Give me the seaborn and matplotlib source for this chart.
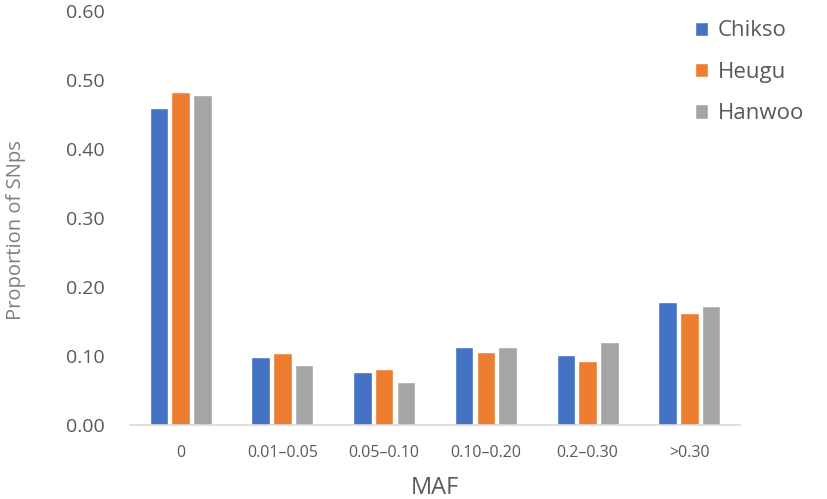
import matplotlib
matplotlib.use("Agg")
import matplotlib.pyplot as plt
import seaborn as sns
import pandas as pd

categories = ["0", "0.01\u20130.05", "0.05\u20130.10", "0.10\u20130.20", "0.2\u20130.30", ">0.30"]
breeds = ["Chikso", "Heugu", "Hanwoo"]
chikso = [0.460, 0.099, 0.077, 0.113, 0.101, 0.179]
heugu = [0.482, 0.105, 0.081, 0.106, 0.093, 0.163]
hanwoo = [0.479, 0.087, 0.062, 0.113, 0.121, 0.173]
colors = ["#4472C4", "#ED7D31", "#A5A5A5"]

rows = []
for b, vals in zip(breeds, [chikso, heugu, hanwoo]):
    for c, v in zip(categories, vals):
        rows.append({"MAF": c, "Breed": b, "Proportion": v})
df = pd.DataFrame(rows)

sns.set_theme(style="white")
plt.rcParams["font.family"] = ["Open Sans", "DejaVu Sans"]

fig = plt.figure(figsize=(8.27, 4.99), dpi=100)
ax = fig.add_axes([0.157, 0.148, 0.738, 0.830])
sns.barplot(data=df, x="MAF", y="Proportion", hue="Breed", hue_order=breeds,
            order=categories, palette=colors, width=0.64, gap=0.14,
            saturation=1, ax=ax, legend=True)

ax.set_ylim(0, 0.60)
ax.set_yticks([0, 0.1, 0.2, 0.3, 0.4, 0.5, 0.6])
ax.set_yticklabels([f"{v:.2f}" for v in [0, 0.1, 0.2, 0.3, 0.4, 0.5, 0.6]])
ax.set_xlim(-0.5, 5.5)
for s in ["top", "right", "left"]:
    ax.spines[s].set_visible(False)
ax.spines["bottom"].set_color("#D9D9D9")
ax.spines["bottom"].set_linewidth(1.2)
ax.tick_params(axis="y", length=0, labelsize=14, colors="#595959", pad=18)
ax.tick_params(axis="x", length=0, labelsize=11.5, colors="#595959", pad=14)
ax.set_xlabel("MAF", fontsize=17, color="#595959", labelpad=11)
ax.set_ylabel("Proportion of SNps", fontsize=14.5, color="#7F7F7F")
ax.yaxis.set_label_coords(-0.170, 0.471)

handles, labels = ax.get_legend_handles_labels()
ax.get_legend().remove()
fig.legend(handles, labels, loc="upper left", bbox_to_anchor=(0.840, 0.959),
           frameon=False, fontsize=16, handlelength=0.6, handleheight=0.6,
           handletextpad=0.45, labelspacing=0.92, labelcolor="#595959",
           borderpad=0, borderaxespad=0)

fig.savefig("out.png", dpi=100)
